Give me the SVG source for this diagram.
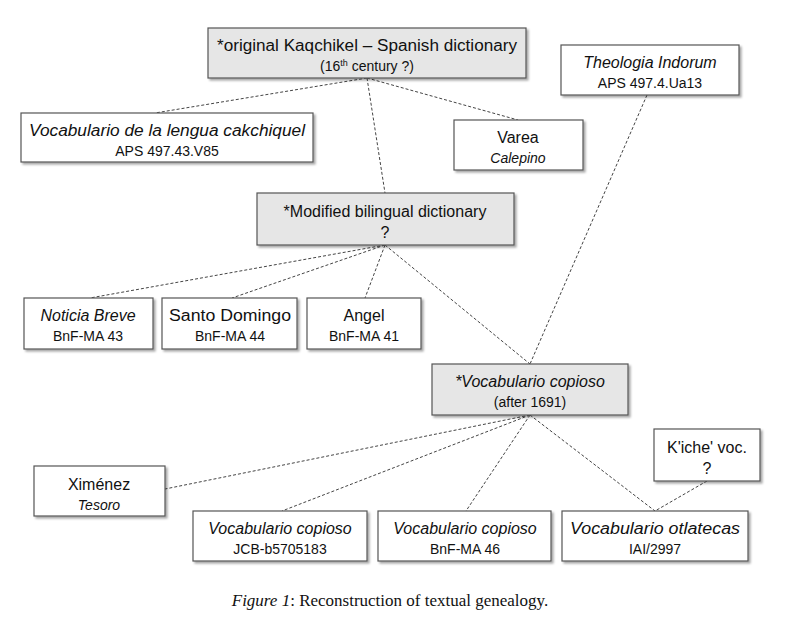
<svg xmlns="http://www.w3.org/2000/svg" width="800" height="623" viewBox="0 0 800 623">
<defs>
<filter id="sh" x="-5%" y="-5%" width="115%" height="130%"><feDropShadow dx="2" dy="2" stdDeviation="1" flood-color="#000" flood-opacity="0.35"/></filter>
<style>
.b{fill:#fff;stroke:#555;stroke-width:1.2;filter:url(#sh)}
.g{fill:#e6e6e6;stroke:#555;stroke-width:1.2;filter:url(#sh)}
text{font-family:"Liberation Sans",Arial,sans-serif;font-size:14px;fill:#111;text-anchor:middle}
.t{font-size:16px}
.i{font-style:italic}
.c line{stroke:#444;stroke-width:1;stroke-dasharray:3,2}
</style>
</defs>
<rect width="800" height="623" fill="#fff"/>
<g class="c">
<line x1="367" y1="78" x2="155" y2="113"/>
<line x1="367" y1="78" x2="518" y2="120"/>
<line x1="367" y1="78" x2="385" y2="193"/>
<line x1="647" y1="95" x2="530" y2="364"/>
<line x1="385" y1="245" x2="90" y2="298"/>
<line x1="385" y1="245" x2="232" y2="298"/>
<line x1="385" y1="245" x2="365" y2="298"/>
<line x1="385" y1="245" x2="530" y2="364"/>
<line x1="530" y1="415" x2="165" y2="489"/>
<line x1="530" y1="415" x2="282" y2="511"/>
<line x1="530" y1="415" x2="466" y2="511"/>
<line x1="530" y1="415" x2="655" y2="511"/>
<line x1="707" y1="481" x2="655" y2="511"/>
</g>
<g id="original"><rect class="g" x="208" y="28" width="318" height="50"/><text class="t" x="367" y="51" textLength="300" lengthAdjust="spacingAndGlyphs">*original Kaqchikel – Spanish dictionary</text><text x="367" y="71">(16<tspan font-size="9" dy="-5">th</tspan><tspan dy="5"> century ?)</tspan></text></g>
<g id="theologia"><rect class="b" x="561" y="45" width="178" height="50"/><text class="t i" x="650" y="68">Theologia Indorum</text><text x="650" y="88">APS 497.4.Ua13</text></g>
<g id="vlengua"><rect class="b" x="21" y="113" width="292" height="49"/><text class="t i" x="167" y="136" textLength="276" lengthAdjust="spacingAndGlyphs">Vocabulario de la lengua cakchiquel</text><text x="167" y="156">APS 497.43.V85</text></g>
<g id="varea"><rect class="b" x="454" y="120" width="129" height="50"/><text class="t" x="518" y="143">Varea</text><text class="i" x="518" y="163">Calepino</text></g>
<g id="modified"><rect class="g" x="257" y="193" width="257" height="52"/><text class="t" x="385" y="217">*Modified bilingual dictionary</text><text class="t" x="385" y="238">?</text></g>
<g id="noticia"><rect class="b" x="24" y="298" width="129" height="51"/><text class="t i" x="88" y="321">Noticia Breve</text><text x="88" y="341">BnF-MA 43</text></g>
<g id="santo"><rect class="b" x="162" y="298" width="135" height="51"/><text class="t" x="230" y="321" textLength="122" lengthAdjust="spacingAndGlyphs">Santo Domingo</text><text x="230" y="341">BnF-MA 44</text></g>
<g id="angel"><rect class="b" x="307" y="298" width="114" height="51"/><text class="t" x="364" y="321">Angel</text><text x="364" y="341">BnF-MA 41</text></g>
<g id="vcopioso"><rect class="g" x="432" y="364" width="196" height="51"/><text class="t i" x="530" y="387">*Vocabulario copioso</text><text x="530" y="407">(after 1691)</text></g>
<g id="kiche"><rect class="b" x="654" y="429" width="106" height="52"/><text class="t" x="707" y="453">K'iche' voc.</text><text class="t" x="707" y="474">?</text></g>
<g id="ximenez"><rect class="b" x="34" y="466" width="131" height="50"/><text class="t" x="99" y="490">Ximénez</text><text class="i" x="99" y="510">Tesoro</text></g>
<g id="jcb"><rect class="b" x="193" y="511" width="174" height="50"/><text class="t i" x="280" y="534">Vocabulario copioso</text><text x="280" y="554">JCB-b5705183</text></g>
<g id="bnf46"><rect class="b" x="378" y="511" width="173" height="50"/><text class="t i" x="465" y="534">Vocabulario copioso</text><text x="465" y="554">BnF-MA 46</text></g>
<g id="otlatecas"><rect class="b" x="562" y="511" width="186" height="50"/><text class="t i" x="655" y="534" textLength="170" lengthAdjust="spacingAndGlyphs">Vocabulario otlatecas</text><text x="655" y="554">IAI/2997</text></g>
<text x="390" y="606" style="font-family:'Liberation Serif',serif;font-size:17px"><tspan font-style="italic">Figure 1</tspan>:  Reconstruction of textual genealogy.</text>
</svg>
